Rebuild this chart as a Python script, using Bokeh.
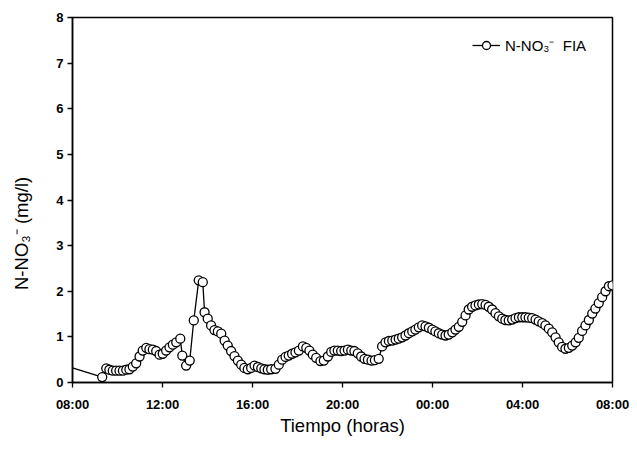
from bokeh.plotting import figure
from bokeh.models import FixedTicker, Legend, LegendItem
from bokeh.embed import file_html
from bokeh.resources import INLINE

# hours elapsed since 08:00
hours = [0, 1.32, 1.50, 1.64, 1.79, 1.94, 2.09, 2.24, 2.39, 2.53, 2.68, 2.83, 2.98, 3.12, 3.28,
         3.42, 3.57, 3.72, 3.87, 4.01, 4.16, 4.31, 4.46, 4.61, 4.79, 4.88, 5.05, 5.21, 5.39,
         5.61, 5.79, 5.87, 6.01, 6.16, 6.31, 6.46, 6.61, 6.76, 6.90, 7.05, 7.20, 7.35, 7.50,
         7.64, 7.79, 7.94, 8.09, 8.24, 8.39, 8.53, 8.68, 8.83, 9.02, 9.17, 9.32, 9.47, 9.61,
         9.76, 9.91, 10.06, 10.24, 10.39, 10.53, 10.68, 10.83, 11.02, 11.17, 11.35, 11.50,
         11.64, 11.79, 11.94, 12.09, 12.24, 12.39, 12.53, 12.68, 12.83, 12.98, 13.13, 13.29,
         13.44, 13.61, 13.76, 13.91, 14.06, 14.21, 14.36, 14.50, 14.65, 14.80, 14.95, 15.10,
         15.24, 15.39, 15.54, 15.69, 15.84, 15.99, 16.13, 16.28, 16.43, 16.58, 16.72, 16.88,
         17.02, 17.17, 17.32, 17.47, 17.61, 17.76, 17.91, 18.06, 18.21, 18.36, 18.50, 18.65,
         18.80, 18.95, 19.10, 19.24, 19.39, 19.54, 19.69, 19.84, 19.99, 20.13, 20.28, 20.43,
         20.58, 20.72, 20.88, 21.02, 21.17, 21.32, 21.47, 21.61, 21.76, 21.91, 22.06, 22.21,
         22.36, 22.50, 22.65, 22.80, 22.95, 23.10, 23.24, 23.39, 23.54, 23.69, 23.84, 24.00]

no3_fia = [0.32, 0.12, 0.31, 0.28, 0.26, 0.26, 0.26, 0.26, 0.28, 0.29, 0.35, 0.42, 0.57, 0.70, 0.76,
           0.73, 0.72, 0.69, 0.61, 0.63, 0.70, 0.77, 0.83, 0.88, 0.96, 0.59, 0.37, 0.48, 1.36,
           2.24, 2.20, 1.54, 1.40, 1.25, 1.15, 1.12, 1.07, 0.92, 0.81, 0.69, 0.58, 0.48, 0.39,
           0.32, 0.29, 0.32, 0.37, 0.34, 0.31, 0.29, 0.28, 0.29, 0.30, 0.39, 0.50, 0.56, 0.59,
           0.63, 0.66, 0.70, 0.79, 0.76, 0.70, 0.61, 0.54, 0.47, 0.48, 0.57, 0.67,
           0.70, 0.70, 0.69, 0.70, 0.72, 0.70, 0.69, 0.64, 0.57, 0.52, 0.50, 0.48,
           0.49, 0.52, 0.79, 0.88, 0.91, 0.92, 0.94, 0.96, 0.99, 1.03, 1.08, 1.12,
           1.16, 1.21, 1.25, 1.23, 1.20, 1.16, 1.12, 1.08, 1.05, 1.03, 1.05, 1.10,
           1.16, 1.22, 1.33, 1.47, 1.60, 1.66, 1.69, 1.71, 1.72, 1.70, 1.66, 1.60,
           1.52, 1.45, 1.40, 1.37, 1.36, 1.38, 1.41, 1.43, 1.43, 1.43, 1.42, 1.41,
           1.38, 1.34, 1.30, 1.25, 1.18, 1.10, 0.99, 0.88, 0.78, 0.74, 0.76, 0.81,
           0.88, 0.98, 1.13, 1.25, 1.37, 1.51, 1.62, 1.74, 1.87, 2.00, 2.11, 2.13]

x_ticks = [0, 4, 8, 12, 16, 20, 24]
x_tick_labels = ["08:00", "12:00", "16:00", "20:00", "00:00", "04:00", "08:00"]
y_ticks = [0, 1, 2, 3, 4, 5, 6, 7, 8]

FONT = "Liberation Sans"

p = figure(width=637, height=456, x_range=(0, 24), y_range=(0, 8),
           output_backend="svg", toolbar_location=None,
           min_border_left=72, min_border_right=25, min_border_top=17, min_border_bottom=74)

p.background_fill_color = "white"
p.border_fill_color = "white"
p.grid.visible = False
p.outline_line_color = "black"
p.outline_line_width = 1.5

line_r = p.line(hours, no3_fia, line_color="black", line_width=1.3)
pts_r = p.scatter(hours[1:], no3_fia[1:], marker="circle", size=9,
                  fill_color="white", line_color="black", line_width=1.3)

for ax in (p.xaxis[0], p.yaxis[0]):
    ax.axis_line_width = 1.5
    ax.major_tick_line_width = 1.3
    ax.major_tick_in = 0
    ax.major_tick_out = 5
    ax.minor_tick_line_color = None
    ax.major_label_text_font = FONT
    ax.major_label_text_font_size = "13px"
    ax.major_label_text_font_style = "bold"
    ax.major_label_text_color = "black"
    ax.axis_label_text_font = FONT
    ax.axis_label_text_font_size = "18.5px"
    ax.axis_label_text_font_style = "normal"
    ax.axis_label_text_color = "black"

p.xaxis.ticker = FixedTicker(ticks=x_ticks)
p.xaxis.major_label_overrides = {t: l for t, l in zip(x_ticks, x_tick_labels)}
p.xaxis.major_label_standoff = 9
p.xaxis.axis_label = "Tiempo (horas)"
p.xaxis.axis_label_standoff = 0

p.yaxis.ticker = FixedTicker(ticks=y_ticks)
p.yaxis.major_label_standoff = 4
# trailing no-break spaces push the visible title below centre, as in the original
p.yaxis.axis_label = "N-NO\u2083\u207b   (mg/l)" + "\u00a0" * 11
p.yaxis.axis_label_standoff = 21

legend = Legend(items=[LegendItem(label="N-NO\u2083\u207b  FIA", renderers=[line_r, pts_r])],
                location=(400, 327), orientation="vertical")
legend.border_line_color = None
legend.background_fill_alpha = 0
legend.padding = 0
legend.margin = 0
legend.spacing = 0
legend.glyph_width = 28
legend.glyph_height = 20
legend.label_height = 20
legend.label_standoff = 5
legend.label_text_font = FONT
legend.label_text_font_size = "15px"
legend.label_text_color = "black"
p.add_layout(legend, "center")

open("out.html", "w").write(file_html(p, INLINE))
